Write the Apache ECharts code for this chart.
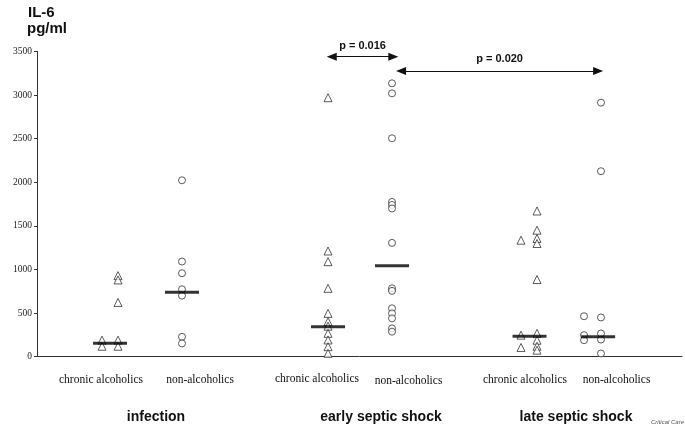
<!DOCTYPE html>
<html>
<head>
<meta charset="utf-8">
<script src="https://cdn.jsdelivr.net/npm/echarts@6/dist/echarts.min.js"></script>
<style>
html,body{margin:0;padding:0;background:#fff;}
#chart{width:685px;height:437px;}
</style>
</head>
<body>
<div id="chart"></div>
<script>
// ---- data (IL-6, pg/ml) ----
const groups = ['infection', 'early septic shock', 'late septic shock'];
const subgroups = ['chronic alcoholics', 'non-alcoholics'];
const yTicks = [0, 500, 1000, 1500, 2000, 2500, 3000, 3500];

// chronic alcoholics (triangles); L/R = the two side-by-side columns of the dot plot
const infChronicL = [190, 120];
const infChronicR = [930, 880, 622, 190, 120];
const earlyChronic = [2970, 1212, 1090, 784, 497, 402, 350, 268, 192, 115, 39];
const lateChronicL = [1336, 247, 106];
const lateChronicR = [1671, 1451, 1356, 1298, 885, 268, 189, 120, 75];

// non-alcoholics (circles)
const infNon = [2023, 1091, 957, 773, 700, 228, 152];
const earlyNon = [3135, 3020, 2505, 1775, 1740, 1700, 1305, 785, 755, 555, 497, 440, 325, 287];
const lateNonL = [464, 247, 189];
const lateNonR = [2913, 2127, 450, 266, 197, 37];

// medians: inf-chronic, inf-non, early-chronic, early-non, late-chronic, late-non
const medians = [155, 739, 344, 1044, 235, 229];

// p-values between groups
const pLabels = ['p = 0.016', 'p = 0.020'];

// ---- layout (x axis in arbitrary units 0..100) ----
const X = {
  infCL: 10.08, infCR: 12.56, infC: 11.32, infN: 22.48,
  earlyC: 45.12, earlyN: 55.04,
  lateCL: 75.04, lateCR: 77.52, lateC: 76.36,
  lateNL: 84.81, lateNR: 87.44, lateN: 87.0
};
const medianX = [X.infC, X.infN, X.earlyC, X.earlyN, X.lateC, X.lateN];

function pts(x, arr) { return arr.map(v => [x, v]); }

const triData = [].concat(
  pts(X.infCL, infChronicL), pts(X.infCR, infChronicR),
  pts(X.earlyC, earlyChronic),
  pts(X.lateCL, lateChronicL), pts(X.lateCR, lateChronicR)
);
const circData = [].concat(
  pts(X.infN, infNon), pts(X.earlyN, earlyNon),
  pts(X.lateNL, lateNonL), pts(X.lateNR, lateNonR)
);
const medData = medians.map((v, i) => [medianX[i], v]);

const chart = echarts.init(document.getElementById('chart'), null, {renderer: 'canvas'});

const sub = subgroups.concat(subgroups, subgroups);
const subPos = [[101, 380], [200, 380], [317, 378.5], [408.5, 380.5], [525, 380], [616.5, 380]];
const grpPos = [[156, 417], [381, 417], [576, 417]];

const graphics = [
  {type: 'text', left: 28, top: 5, style: {text: 'IL-6', font: 'bold 15px "Liberation Sans", Arial', fill: '#111'}},
  {type: 'text', left: 27, top: 21.5, style: {text: 'pg/ml', font: 'bold 15px "Liberation Sans", Arial', fill: '#111'}},
  {type: 'text', left: 651, top: 419, style: {text: 'Critical Care', font: 'italic 6px "Liberation Sans", Arial', fill: '#555'}}
];
sub.forEach((t, i) => graphics.push({
  type: 'text', x: subPos[i][0], y: subPos[i][1],
  style: {text: t, font: '11.5px "Liberation Serif", "Times New Roman", serif', fill: '#111', textAlign: 'center', textVerticalAlign: 'middle'}
}));
groups.forEach((t, i) => graphics.push({
  type: 'text', x: grpPos[i][0], y: grpPos[i][1],
  style: {text: t, font: 'bold 14px "Liberation Sans", Arial', fill: '#111', textAlign: 'center', textVerticalAlign: 'middle'}
}));

const arrowLine = (x1, x2, y, label, dist) => [
  {coord: [x1, y], label: {show: true, formatter: label, position: 'insideMiddleTop', distance: dist,
    color: '#111', fontSize: 11, fontWeight: 'bold', fontFamily: '"Liberation Sans", Arial'}},
  {coord: [x2, y]}
];

chart.setOption({
  animation: false,
  backgroundColor: '#fff',
  graphic: graphics,
  grid: {left: 37, right: 3, top: 51.5, bottom: 80.3, containLabel: false},
  xAxis: {
    type: 'value', min: 0, max: 100,
    axisLine: {show: true, onZero: false, lineStyle: {color: '#333', width: 1}},
    axisTick: {show: false}, axisLabel: {show: false}, splitLine: {show: false}
  },
  yAxis: {
    type: 'value', min: 0, max: 3500, interval: 500,
    axisLine: {show: true, lineStyle: {color: '#333', width: 1}},
    axisTick: {show: true, length: 3, lineStyle: {color: '#333'}},
    axisLabel: {
      color: '#222', fontSize: 9.5, fontFamily: '"Liberation Serif", serif', margin: 5,
      formatter: v => yTicks.includes(v) ? String(v) : ''
    },
    splitLine: {show: false}
  },
  series: [
    {
      type: 'scatter', name: 'chronic alcoholics', data: triData,
      symbol: 'triangle', symbolSize: [8, 8],
      itemStyle: {color: '#fff', borderColor: '#333', borderWidth: 1},
      z: 3
    },
    {
      type: 'scatter', name: 'non-alcoholics', data: circData,
      symbol: 'circle', symbolSize: 7,
      itemStyle: {color: '#fff', borderColor: '#333', borderWidth: 1},
      z: 3
    },
    {
      type: 'scatter', name: 'median', data: medData,
      symbol: 'rect', symbolSize: [34, 3],
      itemStyle: {color: '#000'},
      z: 4
    },
    {
      type: 'line', data: [], silent: true,
      markLine: {
        silent: true, animation: false,
        symbol: ['triangle', 'triangle'], symbolSize: [8, 10],
        lineStyle: {color: '#111', width: 1.2, type: 'solid'},
        data: [
          arrowLine(45.7, 55.24, 3440, pLabels[0], 5),
          arrowLine(56.44, 87.0, 3276, pLabels[1], 7)
        ]
      }
    }
  ]
});
</script>
</body>
</html>
